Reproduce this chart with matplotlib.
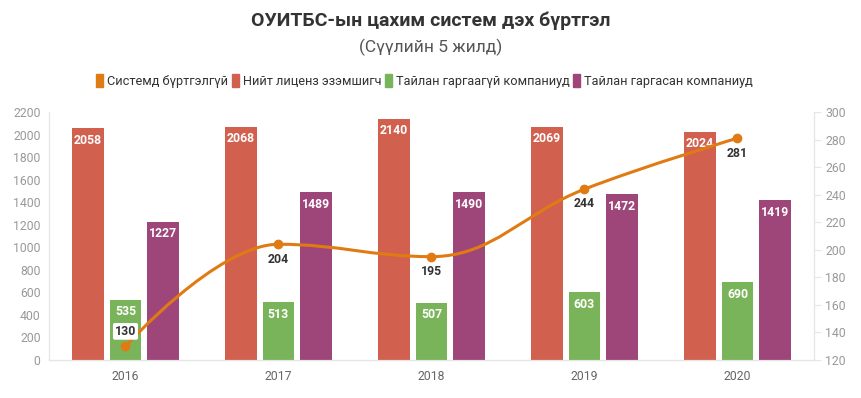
import matplotlib.pyplot as plt
import numpy as np
from matplotlib.path import Path
from matplotlib.patches import PathPatch, Patch

plt.rcParams['font.family'] = ['Roboto', 'DejaVu Sans']

years = ['2016', '2017', '2018', '2019', '2020']
niit = [2058, 2068, 2140, 2069, 2024]
gargaagui = [535, 513, 507, 603, 690]
gargasan = [1227, 1489, 1490, 1472, 1419]
burtgelgui = [130, 204, 195, 244, 281]

c_red = '#d1604f'
c_green = '#7ab45a'
c_purple = '#9e4679'
c_orange = '#e07b14'


def spline_path(xs, ys, smoothing=1.5):
    # highcharts-style spline through the points
    n = len(xs)
    lc = [(xs[i], ys[i]) for i in range(n)]
    rc = [(xs[i], ys[i]) for i in range(n)]
    d = smoothing + 1
    for i in range(1, n - 1):
        x, y = xs[i], ys[i]
        lx, ly = xs[i - 1], ys[i - 1]
        nx, ny = xs[i + 1], ys[i + 1]
        lcx = (smoothing * x + lx) / d
        lcy = (smoothing * y + ly) / d
        rcx = (smoothing * x + nx) / d
        rcy = (smoothing * y + ny) / d
        corr = (rcy - lcy) * (rcx - x) / (rcx - lcx) + y - rcy
        lcy += corr
        rcy += corr
        if lcy > ly and lcy > y:
            lcy = max(ly, y)
            rcy = 2 * y - lcy
        elif lcy < ly and lcy < y:
            lcy = min(ly, y)
            rcy = 2 * y - lcy
        if rcy > ny and rcy > y:
            rcy = max(ny, y)
            lcy = 2 * y - rcy
        elif rcy < ny and rcy < y:
            rcy = min(ny, y)
            lcy = 2 * y - rcy
        lc[i] = (lcx, lcy)
        rc[i] = (rcx, rcy)
    verts = [(xs[0], ys[0])]
    codes = [Path.MOVETO]
    for i in range(1, n):
        verts += [rc[i - 1], lc[i], (xs[i], ys[i])]
        codes += [Path.CURVE4] * 3
    return Path(verts, codes)


fig = plt.figure(figsize=(8.61, 3.98), dpi=100)
ax = fig.add_axes([0.0569, 0.0955, 0.8885, 0.6231])
ax2 = ax.twinx()

x = np.arange(len(years))
w = 0.209
off = 0.248
for vals, col, dx in [(niit, c_red, -off), (gargaagui, c_green, 0), (gargasan, c_purple, off)]:
    bars = ax.bar(x + dx, vals, width=w, color=col, zorder=2)
    for b, v in zip(bars, vals):
        ax.annotate(str(v), (b.get_x() + b.get_width() / 2, v), xytext=(0, -4),
                    textcoords='offset points', ha='center', va='top',
                    fontsize=8.8, fontweight='bold', color='white', zorder=3)

ax.set_xlim(-0.5, 4.5)
ax.set_ylim(0, 2200)
ax.set_yticks(np.arange(0, 2201, 200))
ax.set_xticks(x)
ax.set_xticklabels(years)

ax2.set_ylim(120, 300)
ax2.set_yticks(np.arange(120, 301, 20))
ax2.add_patch(PathPatch(spline_path(list(x), burtgelgui), fill=False,
                        edgecolor=c_orange, lw=2.2, zorder=4))
ax2.plot(x, burtgelgui, 'o', color=c_orange, ms=6, zorder=5)
for i, v in enumerate(burtgelgui):
    if i == 0:
        ax2.annotate(str(v), (x[i], v), xytext=(0, 6), textcoords='offset points',
                     ha='center', va='bottom', fontsize=8.8, fontweight='bold',
                     color='#333333', zorder=6,
                     bbox=dict(boxstyle='round,pad=0.15', fc='white', ec='none'))
    else:
        ax2.annotate(str(v), (x[i], v), xytext=(0, -6), textcoords='offset points',
                     ha='center', va='top', fontsize=8.8, fontweight='bold',
                     color='#333333', zorder=6)

for a in (ax, ax2):
    for s in a.spines.values():
        s.set_color('#e6e6e6')
    a.spines['top'].set_visible(False)
ax.spines['bottom'].set_color('#ccd6eb')
ax.tick_params(axis='y', length=0, labelsize=8.8, labelcolor='#999999', pad=6)
ax.tick_params(axis='x', length=0, labelsize=8.8, labelcolor='#666666', pad=7)
ax2.tick_params(axis='y', length=5, color='#e6e6e6', labelsize=8.8, labelcolor='#999999', pad=3)

fig.text(0.5, 0.948, 'ОУИТБС-ын цахим систем дэх бүртгэл', ha='center', va='center',
         fontsize=14, fontweight='bold', color='#333333')
fig.text(0.5, 0.88, '(Сүүлийн 5 жилд)', ha='center', va='center',
         fontsize=12.5, color='#555555')

handles = [Patch(color=c_orange), Patch(color=c_red), Patch(color=c_green), Patch(color=c_purple)]
labels = ['Системд бүртгэлгүй', 'Нийт лиценз эзэмшигч', 'Тайлан гаргаагүй компаниуд',
          'Тайлан гаргасан компаниуд']
fig.legend(handles, labels, loc='center', bbox_to_anchor=(0.493, 0.797), ncol=4,
           frameon=False, fontsize=9.2, handlelength=0.55, handleheight=1.2,
           handletextpad=0.3, columnspacing=0.3, labelcolor='#333333')

fig.savefig('out.png', dpi=100)
